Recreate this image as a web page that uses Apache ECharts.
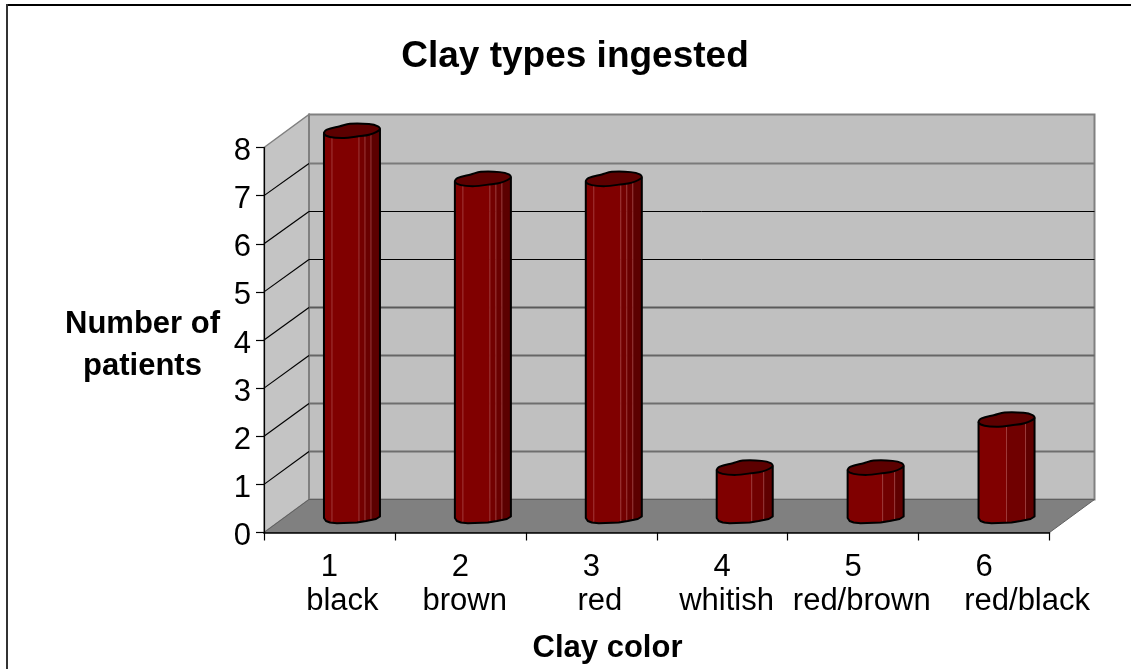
<!DOCTYPE html>
<html>
<head>
<meta charset="utf-8">
<style>
  html, body { margin: 0; padding: 0; background: #fff; }
  #chart { width: 1131px; height: 669px; }
</style>
<script src="https://cdn.jsdelivr.net/npm/echarts@6/dist/echarts.min.js"></script>
</head>
<body>
<div id="chart"></div>
<script>
// 数据
const categories = ['1\n   black', '2\n brown', '3\n  red', '4\n whitish', '5\n  red/brown', '6\n          red/black'];
const patients = [8, 7, 7, 1, 1, 2];
const yTicks = [0, 1, 2, 3, 4, 5, 6, 7, 8];

// 3D 效果：进深偏移
const DEPTH_X = 45;
const DEPTH_Y = -33;
const FONT = '"Liberation Sans", Arial, sans-serif';

// 圆柱顶面/底面轮廓（相对圆柱中心）
const frontTop = [[-28, 2.5], [-22, 6], [-8, 7], [5, 5.5], [18, 3.5], [28, -1.5]];
const backTop = [[28, -1.5], [26, -4.7], [17, -7], [-2, -7.3], [-12, -4.7], [-25, -1.3], [-28, 2.5]];
const topShape = frontTop.concat(backTop.slice(1, -1));
const frontBottom = [[-28, 2], [-26, 5], [-22, 6.5], [-15, 7.3], [5, 6.5], [14, 5], [24, 3], [28, 0.5]];

// 每根柱子的分面
const tallFacets = { cuts: [-28, 7, 13, 19, 28], fills: ['#800000', '#730000', '#690000', '#5c0000'], glints: [-20, 7, 13, 19] };
const lowFacets = { cuts: [-28, 7, 19, 28], fills: ['#800000', '#700000', '#5f0000'], glints: [7, 19] };
const lastFacets = { cuts: [-28, 0, 19, 28], fills: ['#800000', '#700000', '#5f0000'], glints: [0, 19] };
const barFacets = [tallFacets, tallFacets, tallFacets, lowFacets, lowFacets, lastFacets];

// 背墙网格线：下方偏灰，上方偏黑
const gridColors = { 1: '#6e6e6e', 2: '#6e6e6e', 3: '#666666', 4: '#5a5a5a', 5: '#000000', 6: '#000000', 7: '#7a7a7a' };

function yOn(curve, dx) {
  for (let i = 1; i < curve.length; i++) {
    if (dx <= curve[i][0]) {
      const a = curve[i - 1], b = curve[i];
      return a[1] + (b[1] - a[1]) * (dx - a[0]) / (b[0] - a[0]);
    }
  }
  return curve[curve.length - 1][1];
}

function renderWalls(params, api) {
  const r = params.coordSys;
  const x0 = r.x, x1 = r.x + r.width, y0 = r.y, y1 = r.y + r.height;
  const children = [
    // 左侧墙
    { type: 'polygon', shape: { points: [[x0, y0], [x0 + DEPTH_X, y0 + DEPTH_Y], [x0 + DEPTH_X, y1 + DEPTH_Y], [x0, y1]] },
      style: { fill: '#c4c4c4', stroke: '#808080', lineWidth: 1.5 } },
    // 背墙
    { type: 'rect', shape: { x: x0 + DEPTH_X, y: y0 + DEPTH_Y, width: r.width, height: r.height },
      style: { fill: '#c0c0c0', stroke: '#808080', lineWidth: 2 } },
    // 地面
    { type: 'polygon', shape: { points: [[x0, y1], [x0 + DEPTH_X, y1 + DEPTH_Y], [x1 + DEPTH_X, y1 + DEPTH_Y], [x1, y1]] },
      style: { fill: '#808080', stroke: '#606060', lineWidth: 1 } }
  ];
  yTicks.slice(1, -1).forEach(function (v) {
    const y = api.coord([0, v])[1];
    const wallY = Math.round(y + DEPTH_Y) + 0.5;
    const black = gridColors[v] === '#000000';
    children.push({ type: 'line', shape: { x1: x0, y1: y, x2: x0 + DEPTH_X, y2: wallY },
      style: { stroke: '#000', lineWidth: 1.2 } });
    children.push({ type: 'line', shape: { x1: x0 + DEPTH_X, y1: wallY, x2: x1 + DEPTH_X, y2: wallY },
      style: { stroke: gridColors[v], lineWidth: black ? 1 : 2 } });
  });
  return { type: 'group', children: children };
}

function renderCylinder(params, api) {
  const idx = api.value(0);
  const top = api.coord([idx, api.value(1)]);
  const bottom = api.coord([idx, 0]);
  const cx = top[0] + DEPTH_X / 2;
  const ty = top[1] + DEPTH_Y / 2;
  const by = bottom[1] + DEPTH_Y / 2;
  const facets = barFacets[idx];
  const children = [];

  // 柱身分面
  facets.fills.forEach(function (fill, i) {
    const a = facets.cuts[i], b = facets.cuts[i + 1];
    const xs = [a];
    frontTop.concat(frontBottom).forEach(function (p) { if (p[0] > a && p[0] < b) xs.push(p[0]); });
    xs.push(b);
    xs.sort(function (m, n) { return m - n; });
    const pts = xs.map(function (x) { return [cx + x, ty + yOn(frontTop, x)]; })
      .concat(xs.slice().reverse().map(function (x) { return [cx + x, by + yOn(frontBottom, x)]; }));
    children.push({ type: 'polygon', shape: { points: pts }, style: { fill: fill, stroke: fill, lineWidth: 0.5 } });
  });

  // 高光线
  facets.glints.forEach(function (x) {
    children.push({ type: 'line', shape: { x1: cx + x, y1: ty + yOn(frontTop, x), x2: cx + x, y2: by + yOn(frontBottom, x) },
      style: { stroke: '#b05050', lineWidth: 1, opacity: 0.7 } });
  });

  // 外轮廓
  const outline = [[cx + 28, ty - 1.5]].concat(
    frontBottom.slice().reverse().map(function (p) { return [cx + p[0], by + p[1]]; }),
    [[cx - 28, ty + 2.5]]
  );
  children.push({ type: 'polyline', shape: { points: outline }, style: { fill: null, stroke: '#000', lineWidth: 2, lineJoin: 'round' } });

  // 顶面
  children.push({ type: 'polygon',
    shape: { points: topShape.map(function (p) { return [cx + p[0], ty + p[1]]; }), smooth: 0.35 },
    style: { fill: '#5c0000', stroke: '#000', lineWidth: 2 } });

  return { type: 'group', children: children };
}

const chart = echarts.init(document.getElementById('chart'), null, { renderer: 'canvas' });
chart.setOption({
  animation: false,
  backgroundColor: '#fff',
  title: [
    { text: 'Clay types ingested', left: 570, top: 33, textAlign: 'center',
      textStyle: { fontFamily: FONT, fontSize: 37, fontWeight: 'bold', color: '#000' } },
    { text: 'Number of\npatients', left: 137.5, top: 298, textAlign: 'center',
      textStyle: { fontFamily: FONT, fontSize: 31, fontWeight: 'bold', color: '#000', lineHeight: 42 } },
    { text: 'Clay color', left: 602.5, top: 628, textAlign: 'center',
      textStyle: { fontFamily: FONT, fontSize: 31, fontWeight: 'bold', color: '#000' } }
  ],
  grid: { left: 264, right: 81.5, top: 147.5, bottom: 136.5, containLabel: false },
  xAxis: {
    type: 'category',
    data: categories,
    z: 5,
    axisLine: { lineStyle: { color: '#000', width: 1.5 } },
    axisTick: { show: true, alignWithLabel: false, length: 8, lineStyle: { color: '#000', width: 1.2 } },
    axisLabel: { interval: 0, color: '#000', fontFamily: FONT, fontSize: 31, lineHeight: 34, margin: 18 }
  },
  yAxis: {
    type: 'value',
    min: 0,
    max: 8,
    interval: 1,
    z: 5,
    splitLine: { show: false },
    axisLine: { show: true, lineStyle: { color: '#000', width: 1.2 } },
    axisTick: { show: true, length: 8, lineStyle: { color: '#000', width: 1.2 } },
    // 数字比刻度略低
    axisLabel: { color: '#000', fontFamily: FONT, fontSize: 31, margin: 13, verticalAlign: 'top', lineHeight: 8 }
  },
  series: [
    { type: 'custom', name: 'walls', z: 1, silent: true, clip: false, renderItem: renderWalls, data: [[0, 0]], encode: { x: 0, y: 1 } },
    { type: 'custom', name: 'Number of patients', z: 3, clip: false, renderItem: renderCylinder,
      data: patients.map(function (v, i) { return [i, v]; }), encode: { x: 0, y: 1 } }
  ],
  graphic: [
    { type: 'line', shape: { x1: 6, y1: 5, x2: 1131, y2: 5 }, style: { stroke: '#000', lineWidth: 2 } },
    { type: 'line', shape: { x1: 7, y1: 4, x2: 7, y2: 669 }, style: { stroke: '#333', lineWidth: 2 } }
  ]
});
</script>
</body>
</html>
